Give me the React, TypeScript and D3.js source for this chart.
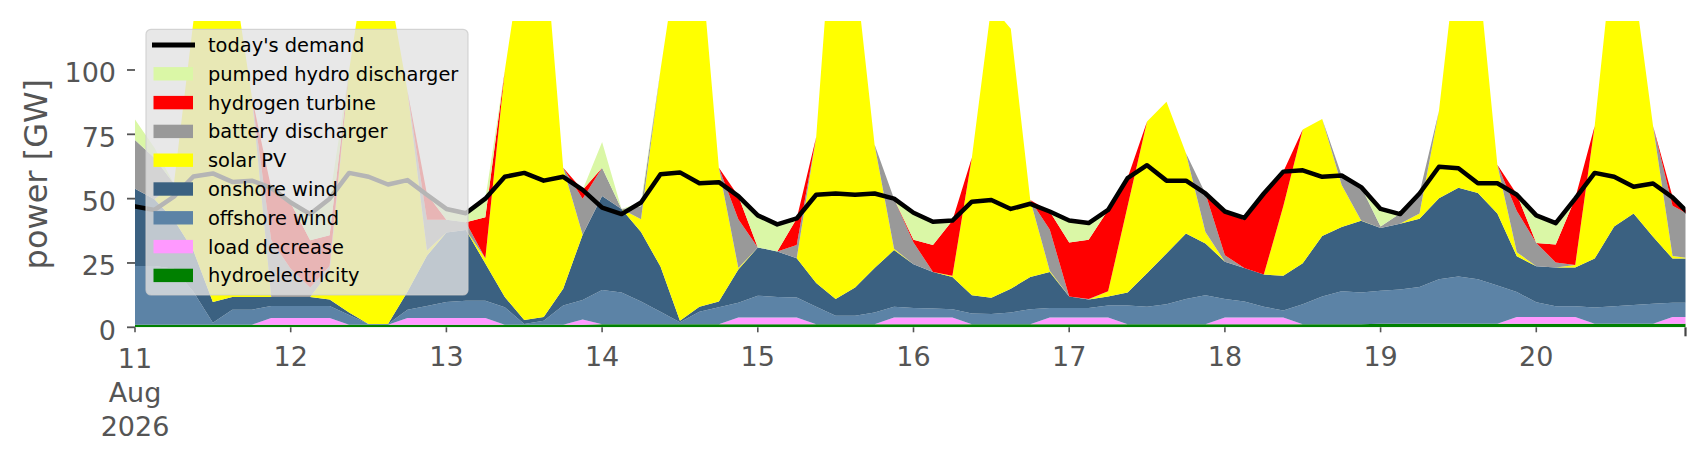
import React from 'react';
import * as d3 from 'd3';

// 3-hourly samples from 11 Aug 2026 00:00 to 21 Aug 2026 00:00 (GW)
const START = new Date(2026, 7, 11, 0, 0);
const STEP_H = 3;

const hydroelectricity = [
  1.0, 1.0, 1.0, 1.0, 1.0, 1.0, 1.0, 1.0, 1.0, 1.0,
  1.0, 1.0, 1.0, 1.0, 1.0, 1.0, 1.0, 1.0, 1.0, 1.0,
  1.0, 1.0, 1.0, 1.0, 1.2, 1.2, 1.2, 1.2, 1.2, 1.2,
  1.2, 1.2, 1.2, 1.2, 1.2, 1.2, 1.2, 1.2, 1.2, 1.2,
  1.2, 1.2, 1.2, 1.2, 1.2, 1.2, 1.2, 1.2, 1.2, 1.2,
  1.2, 1.2, 1.2, 1.2, 1.2, 1.2, 1.2, 1.2, 1.2, 1.2,
  1.2, 1.2, 1.2, 1.2, 1.4, 1.4, 1.4, 1.4, 1.4, 1.4,
  1.4, 1.4, 1.4, 1.4, 1.4, 1.4, 1.4, 1.4, 1.4, 1.4,
  1.4,
];
const loadDecrease = [
  0, 0, 0, 0, 0, 0, 0, 2.6, 2.6, 2.6,
  2.6, 0, 0, 0, 2.6, 2.6, 2.6, 2.6, 2.6, 0,
  0, 0, 0, 2.0, 0, 0, 0, 0, 0, 0,
  0, 2.6, 2.6, 2.6, 2.6, 0, 0, 0, 0, 2.6,
  2.6, 2.6, 2.6, 0, 0, 0, 0, 2.6, 2.6, 2.6,
  2.6, 0, 0, 0, 0, 0, 2.6, 2.6, 2.6, 2.6,
  0, 0, 0, 0, 0, 0, 0, 0, 0, 0,
  0, 2.6, 2.6, 2.6, 2.6, 0, 0, 0, 0, 2.6,
  2.6,
];
const offshoreWind = [
  22.8, 22.8, 21.8, 12.8, 0.8, 5.8, 5.8, 4.7, 4.7, 4.7,
  4.7, 3.8, 0.3, 0.3, 3.2, 4.7, 6.2, 6.7, 6.7, 6.8,
  0.3, 1.5, 7.5, 7.6, 13.3, 12.3, 8.8, 4.8, 0.8, 4.8,
  6.6, 5.7, 8.5, 8, 7.8, 6.8, 3.3, 3.3, 4.6, 4.2,
  3.7, 3.5, 3.2, 4.2, 4, 4.6, 5.8, 3.7, 3.7, 3.7,
  4.7, 7.3, 6.8, 7.8, 9.8, 11.3, 7.2, 6.2, 4.2, 2.7,
  7.8, 10.8, 12.8, 12.3, 12.8, 13.3, 14.3, 17.3, 18.3, 17.3,
  14.8, 9.7, 5.7, 4.2, 4.2, 6.3, 6.8, 7.3, 7.8, 5.5,
  5.5,
];
const onshoreWind = [
  30, 26, 19, 16, 8, 5, 5, 3.5, 3.5, 3.5,
  2.5, 1, 0, 0, 7, 19.5, 27, 27.5, 14.5, 4,
  1.5, 1.5, 6.5, 25.4, 36.5, 32.5, 27, 17.6, 0.5, 2,
  2.2, 13, 18.7, 17.7, 15.2, 9.2, 6.5, 11, 17.2, 22,
  17, 14.2, 12.5, 7.1, 6.3, 9.2, 12.5, 14, 4.5, 3.3,
  3.5, 5, 13, 19.7, 25.5, 20.1, 14.5, 13, 12.5, 13.5,
  15.9, 23.5, 25, 27.9, 24.4, 25.5, 26.5, 31.5, 34.5, 33.5,
  28, 13.9, 14, 15, 15, 19, 31, 35.5, 26, 17.2,
  17.2,
];
const solarPV = [
  0, 0, 14, 89, 140, 128, 78, 0, 0, 0,
  11, 94, 148.5, 133.5, 78, 2, 0, 0, 2, 88,
  147, 151, 47, 0, 0, 0, 5, 76.4, 147.5, 142,
  52, 0.5, 0, 0, 0, 56.8, 165, 124.5, 48, 0.5,
  0, 0, 0.5, 53.5, 113.5, 101, 30, 0.5, 0, 0,
  2, 33.5, 59, 59, 31.1, 4.4, 0, 0, 0, 27,
  52, 45.5, 16.3, 0.1, 0, 0, 2, 34, 96, 88,
  19, 1.6, 0, 0, 1, 51.5, 111, 91, 43, 1,
  0,
];
const batteryDischarger = [
  19, 16, 0, 0, 0, 0, 0, 22, 11, 3.7,
  2, 0, 0, 0, 0, 12, 5, 3, 0, 0,
  0, 0, 0, 14, 11, 0, 5, 0, 0, 0,
  0, 19, 0, 0, 5.2, 0, 0, 0, 0, 19.5,
  8.5, 0, 0, 0, 0, 0, 0, 16, 0, 0.2,
  0, 0, 0, 0, 0, 15, 2.5, 0, 0, 0,
  0, 0, 3.7, 13, 0.6, 4, 8, 0, 0, 0,
  0, 16, 9.1, 2, 0, 0, 0, 0, 0, 19.5,
  16.5,
];
const hydrogenTurbine = [
  0, 0, 0, 0, 0, 0, 0, 20.2, 25.5, 18.3,
  12, 0, 0, 0, 0, 10, 0, 0, 16, 0,
  0, 0, 0, 3.4, 0, 0, 0, 0, 0, 0,
  0, 9, 0, 0, 10.3, 0, 0, 0, 0, 0,
  1, 10.5, 21.5, 0, 0, 0, 0, 7, 21, 23,
  31.6, 11, 0, 0, 0, 0, 17, 18.7, 31.5, 13.5,
  0, 0, 0, 0, 0, 0, 0, 0, 0, 0,
  0, 6.5, 0, 7, 26, 0, 0, 0, 0, 3.5,
  0,
];
const pumpedHydro = [
  8, 4, 0, 0, 0, 0, 0, 0, 0, 10,
  14, 0, 0, 0, 0, 0, 4, 3.3, 7, 0,
  0, 0, 0, 0, 10, 0, 1.5, 0, 0, 0,
  0, 0, 12.5, 10.5, 0, 0, 0, 0, 0, 0,
  10.5, 9, 0, 0, 0, 0, 0, 0, 8.5, 6.5,
  0, 0, 0, 0, 0, 0, 0, 0.8, 0, 0,
  0, 0, 0, 0, 7, 0, 0, 0, 0, 0,
  0, 0, 10.9, 8.5, 0, 0, 0, 0, 0, 0,
  0,
];
const demand = [
  47, 45.6, 50.8, 58.6, 59.8, 56.5, 57, 54.2, 48.5, 44,
  50, 60, 58.5, 55.5, 57.2, 51.5, 46, 44.3, 50, 58.5,
  60, 57, 58.5, 53.4, 46.5, 44, 48.5, 59.5, 60.2, 56,
  56.4, 51, 43.5, 40, 42.3, 51.5, 52, 51.5, 52, 50,
  44.5, 41, 41.5, 48.8, 49.5, 46, 48, 45, 41.5, 40.5,
  45.6, 58, 63, 57, 57, 52, 45, 42.5, 52, 60.5,
  61, 58.5, 59, 54.5, 46, 44, 52, 62.4, 61.8, 56,
  56, 51.5, 43.5, 40.5, 50, 60, 58.5, 54.6, 55.9, 50.5,
  43,
];

const yTicks = [0, 25, 50, 75, 100];

const LAYERS = [
  { key: 'hydro', label: 'hydroelectricity', color: '#008000', values: hydroelectricity },
  { key: 'load', label: 'load decrease', color: '#ff99ff', values: loadDecrease },
  { key: 'offshore', label: 'offshore wind', color: '#5c83a6', values: offshoreWind },
  { key: 'onshore', label: 'onshore wind', color: '#3b6181', values: onshoreWind },
  { key: 'solar', label: 'solar PV', color: '#ffff00', values: solarPV },
  { key: 'battery', label: 'battery discharger', color: '#999999', values: batteryDischarger },
  { key: 'hydrogen', label: 'hydrogen turbine', color: '#ff0000', values: hydrogenTurbine },
  { key: 'pumped', label: 'pumped hydro discharger', color: '#daf7a6', values: pumpedHydro },
];

const W = 1706;
const H = 460;
const FONT = '"DejaVu Sans", Verdana, sans-serif';
const AXIS_GREY = '#555555';

export default function App() {
  const times = demand.map((_, i) => d3.timeHour.offset(START, i * STEP_H));
  const end = d3.timeHour.offset(START, 239);

  const x = d3.scaleTime().domain([START, end]).range([135, 1685.5]);
  const y = d3.scaleLinear().domain([0, 119]).range([327.3, 21.1]);

  const rows = times.map((t, i) => {
    const r: any = { time: t };
    LAYERS.forEach(l => { r[l.key] = l.values[i]; });
    return r;
  });
  const stacked = d3.stack<any>().keys(LAYERS.map(l => l.key))(rows);

  const area = d3.area<any>()
    .x(d => x(d.data.time))
    .y0(d => y(d[0]))
    .y1(d => y(d[1]));

  const demandLine = d3.line<number>()
    .x((_, i) => x(times[i]))
    .y(d => y(d));

  const [x0, x1] = x.range();
  const [yb, yt] = y.range();
  const days = d3.timeDay.range(START, d3.timeHour.offset(end, 1));

  // legend entries, top to bottom
  const legend = [
    { label: "today's demand", color: '#000000', line: true },
    ...LAYERS.slice().reverse().map(l => ({ label: l.label, color: l.color, line: false })),
  ];
  const lgX = 146, lgY = 29.3, lgW = 322, lgH = 265.7, rowH = 28.8, row0 = 45;

  return (
    <svg width={W} height={H} style={{ position: 'fixed', left: 0, top: 0, background: '#fff' }}
      fontFamily={FONT}>
      <defs>
        <clipPath id="plot">
          <rect x={x0} y={yt} width={x1 - x0} height={yb - yt} />
        </clipPath>
      </defs>

      <g clipPath="url(#plot)">
        {stacked.map((s, i) => (
          <path key={s.key} d={area(s) || ''} fill={LAYERS[i].color} stroke="none" />
        ))}
        <path d={demandLine(demand) || ''} fill="none" stroke="#000" strokeWidth={4.5}
          strokeLinejoin="round" strokeLinecap="square" />
      </g>

      {/* y axis */}
      {yTicks.map(t => (
        <g key={t}>
          <line x1={127} x2={135} y1={y(t)} y2={y(t)} stroke={AXIS_GREY} strokeWidth={1.8} />
          <text x={116} y={y(t) + 12.5} textAnchor="end" fontSize={27} fill={AXIS_GREY}>{t}</text>
        </g>
      ))}
      <text transform={`translate(47, ${(yb + yt) / 2}) rotate(-90)`} textAnchor="middle"
        fontSize={32} fill={AXIS_GREY}>power [GW]</text>

      {/* x axis */}
      {days.map((d, i) => (
        <g key={i}>
          <line x1={x(d)} x2={x(d)} y1={yb} y2={yb + 5} stroke={AXIS_GREY} strokeWidth={1.6} />
          {i === 0 ? (
            <text x={x(d)} textAnchor="middle" fontSize={27} fill={AXIS_GREY}>
              <tspan x={x(d)} y={368}>{d3.timeFormat('%-d')(d)}</tspan>
              <tspan x={x(d)} y={402}>{d3.timeFormat('%b')(d)}</tspan>
              <tspan x={x(d)} y={436}>{d3.timeFormat('%Y')(d)}</tspan>
            </text>
          ) : (
            <text x={x(d)} y={366} textAnchor="middle" fontSize={27} fill={AXIS_GREY}>
              {d3.timeFormat('%-d')(d)}
            </text>
          )}
        </g>
      ))}
      <line x1={x1} x2={x1} y1={yb} y2={yb + 9} stroke="#444" strokeWidth={2.2} />

      {/* legend */}
      <rect x={lgX} y={lgY} width={lgW} height={lgH} rx={5} ry={5}
        fill="#e2e2e2" fillOpacity={0.8} stroke="#cccccc" strokeOpacity={0.8} strokeWidth={1.2} />
      {legend.map((e, i) => {
        const cy = row0 + i * rowH;
        return (
          <g key={e.label}>
            {e.line ? (
              <line x1={152} x2={195} y1={cy} y2={cy} stroke={e.color} strokeWidth={5} />
            ) : (
              <rect x={153.5} y={cy - 6.7} width={39.5} height={13.4} fill={e.color} />
            )}
            <text x={208} y={cy + 7} fontSize={19.4} fill="#000">{e.label}</text>
          </g>
        );
      })}
    </svg>
  );
}
